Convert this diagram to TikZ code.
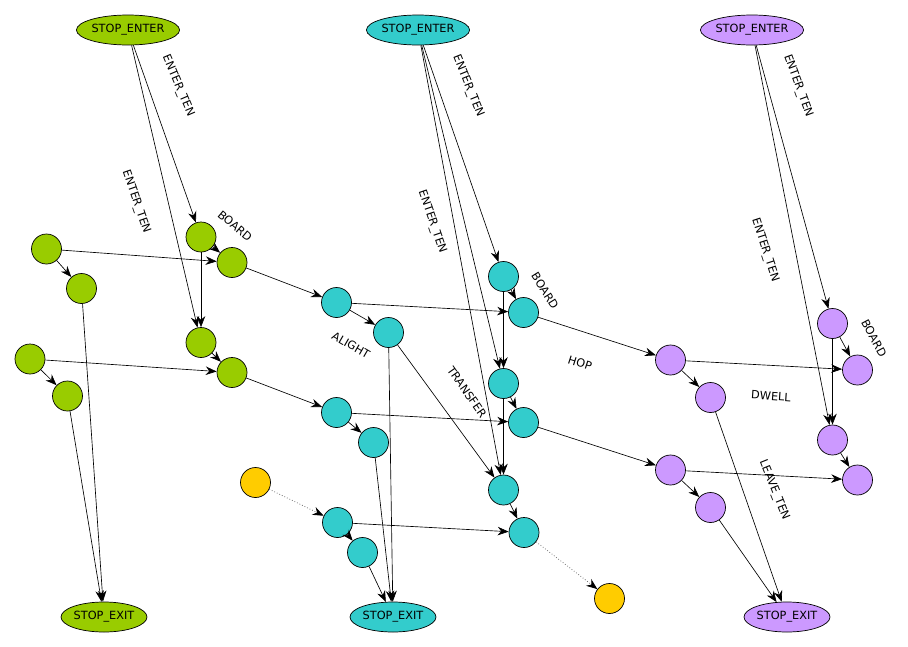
\documentclass[tikz,border=0pt]{standalone}
\usepackage{fontspec}
\setmainfont{DejaVu Sans}
\usetikzlibrary{shapes.geometric,arrows.meta}
\definecolor{cgreen}{HTML}{99CC00}
\definecolor{cteal}{HTML}{33CCCC}
\definecolor{cpurp}{HTML}{CC99FF}
\definecolor{cyell}{HTML}{FFCC00}
\begin{document}
\begin{tikzpicture}[x=1pt,y=-1pt,
  vtx/.style={circle,draw,line width=0.7pt,minimum size=30pt,inner sep=0pt},
  term/.style={ellipse,draw,line width=0.7pt,minimum height=30pt,inner sep=0pt,font=\fontsize{11.3}{13}\selectfont},
  lbl/.style={font=\fontsize{11.3}{13}\selectfont,inner sep=0pt},
  arr/.style={-{Stealth[length=11pt,width=8.5pt]},line width=0.65pt},
  dotarr/.style={-{Stealth[length=11pt,width=8.5pt,color=black]},line width=0.8pt,dotted,draw=black!55}]
\useasboundingbox (0,0) rectangle (908,646);
% terminals
\node[term,fill=cgreen,minimum width=101pt] (SEg) at (128,30) {STOP\_ENTER};
\node[term,fill=cteal,minimum width=101pt] (SEc) at (418,30) {STOP\_ENTER};
\node[term,fill=cpurp,minimum width=101pt] (SEp) at (752,30) {STOP\_ENTER};
\node[term,fill=cgreen,minimum width=86pt] (SXg) at (104,617) {STOP\_EXIT};
\node[term,fill=cteal,minimum width=86pt] (SXc) at (393,617) {STOP\_EXIT};
\node[term,fill=cpurp,minimum width=86pt] (SXp) at (787,617) {STOP\_EXIT};
% green
\node[vtx,fill=cgreen] (g1) at (46.5,249) {};
\node[vtx,fill=cgreen] (g2) at (81.5,288.5) {};
\node[vtx,fill=cgreen] (g3) at (201,237) {};
\node[vtx,fill=cgreen] (g4) at (232,262.5) {};
\node[vtx,fill=cgreen] (g5) at (201,342.5) {};
\node[vtx,fill=cgreen] (g6) at (232,372.5) {};
\node[vtx,fill=cgreen] (g7) at (30,359) {};
\node[vtx,fill=cgreen] (g8) at (67.5,396) {};
% teal
\node[vtx,fill=cteal] (c1) at (336.5,302.5) {};
\node[vtx,fill=cteal] (c2) at (388.5,332.5) {};
\node[vtx,fill=cteal] (c3) at (336.5,412.5) {};
\node[vtx,fill=cteal] (c4) at (373.5,442.5) {};
\node[vtx,fill=cteal] (c5) at (337.5,522.5) {};
\node[vtx,fill=cteal] (c6) at (362.5,552.5) {};
\node[vtx,fill=cteal] (c7) at (503.5,276.5) {};
\node[vtx,fill=cteal] (c8) at (523.5,312.5) {};
\node[vtx,fill=cteal] (c9) at (503.5,383.5) {};
\node[vtx,fill=cteal] (c10) at (523.5,422.5) {};
\node[vtx,fill=cteal] (c11) at (503.5,490) {};
\node[vtx,fill=cteal] (c12) at (524,532.5) {};
% yellow
\node[vtx,fill=cyell] (y1) at (255.5,482.5) {};
\node[vtx,fill=cyell] (y2) at (609.5,598.5) {};
% purple
\node[vtx,fill=cpurp] (p1) at (670.5,360) {};
\node[vtx,fill=cpurp] (p2) at (710.5,397.5) {};
\node[vtx,fill=cpurp] (p3) at (670.5,470) {};
\node[vtx,fill=cpurp] (p4) at (710.5,507.5) {};
\node[vtx,fill=cpurp] (p5) at (832.5,323.5) {};
\node[vtx,fill=cpurp] (p6) at (857.5,370) {};
\node[vtx,fill=cpurp] (p7) at (832.5,440) {};
\node[vtx,fill=cpurp] (p8) at (857.5,480) {};
% green edges
\draw[arr] (SEg) -- (g3);
\draw[arr] (SEg) -- (g5);
\draw[arr] (g1) -- (g2);
\draw[arr] (g1) -- (g4);
\draw[arr] (g3) -- (g4);
\draw[arr] (g3) -- (g5);
\draw[arr] (g5) -- (g6);
\draw[arr] (g7) -- (g6);
\draw[arr] (g7) -- (g8);
\draw[arr] (g2) -- (SXg);
\draw[arr] (g8) -- (SXg);
\draw[arr] (g4) -- (c1);
\draw[arr] (g6) -- (c3);
% teal edges
\draw[arr] (SEc) -- (c7);
\draw[arr] (SEc) -- (c9);
\draw[arr] (SEc) -- (c11);
\draw[arr] (c7) -- (c8);
\draw[arr] (c7) -- (c9);
\draw[arr] (c9) -- (c10);
\draw[arr] (c9) -- (c11);
\draw[arr] (c11) -- (c12);
\draw[arr] (c1) -- (c2);
\draw[arr] (c1) -- (c8);
\draw[arr] (c3) -- (c4);
\draw[arr] (c3) -- (c10);
\draw[arr] (c5) -- (c6);
\draw[arr] (c5) -- (c12);
\draw[arr] (c2) -- (SXc);
\draw[arr] (c2) -- (c11);
\draw[arr] (c4) -- (SXc);
\draw[arr] (c6) -- (SXc);
\draw[dotarr] (y1) -- (c5);
\draw[dotarr] (c12) -- (y2);
\draw[arr] (c8) -- (p1);
\draw[arr] (c10) -- (p3);
% purple edges
\draw[arr] (SEp) -- (p5);
\draw[arr] (SEp) -- (p7);
\draw[arr] (p5) -- (p6);
\draw[arr] (p5) -- (p7);
\draw[arr] (p7) -- (p8);
\draw[arr] (p1) -- (p2);
\draw[arr] (p1) -- (p6);
\draw[arr] (p3) -- (p4);
\draw[arr] (p3) -- (p8);
\draw[arr] (p2) -- (SXp);
\draw[arr] (p4) -- (SXp);
% labels
\node[lbl,rotate=-67] (l1) at (178,86) {ENTER\_TEN};
\node[lbl,rotate=-71] (l2) at (136,202) {ENTER\_TEN};
\node[lbl,rotate=-40] (l3) at (235,226) {BOARD};
\node[lbl,rotate=-68] (l4) at (468,86) {ENTER\_TEN};
\node[lbl,rotate=-71] (l5) at (432,222) {ENTER\_TEN};
\node[lbl,rotate=-58] (l6) at (545,291) {BOARD};
\node[lbl,rotate=-30] (l7) at (351,345) {ALIGHT};
\node[lbl,rotate=-55] (l8) at (467,392) {TRANSFER};
\node[lbl,rotate=-18] (l9) at (580,363) {HOP};
\node[lbl,rotate=-70] (l10) at (798,86) {ENTER\_TEN};
\node[lbl,rotate=-72] (l11) at (765,250) {ENTER\_TEN};
\node[lbl,rotate=-62] (l12) at (874,338) {BOARD};
\node[lbl,rotate=-4] (l13) at (771,396) {DWELL};
\node[lbl,rotate=-68] (l14) at (774,490) {LEAVE\_TEN};
\end{tikzpicture}
\end{document}
